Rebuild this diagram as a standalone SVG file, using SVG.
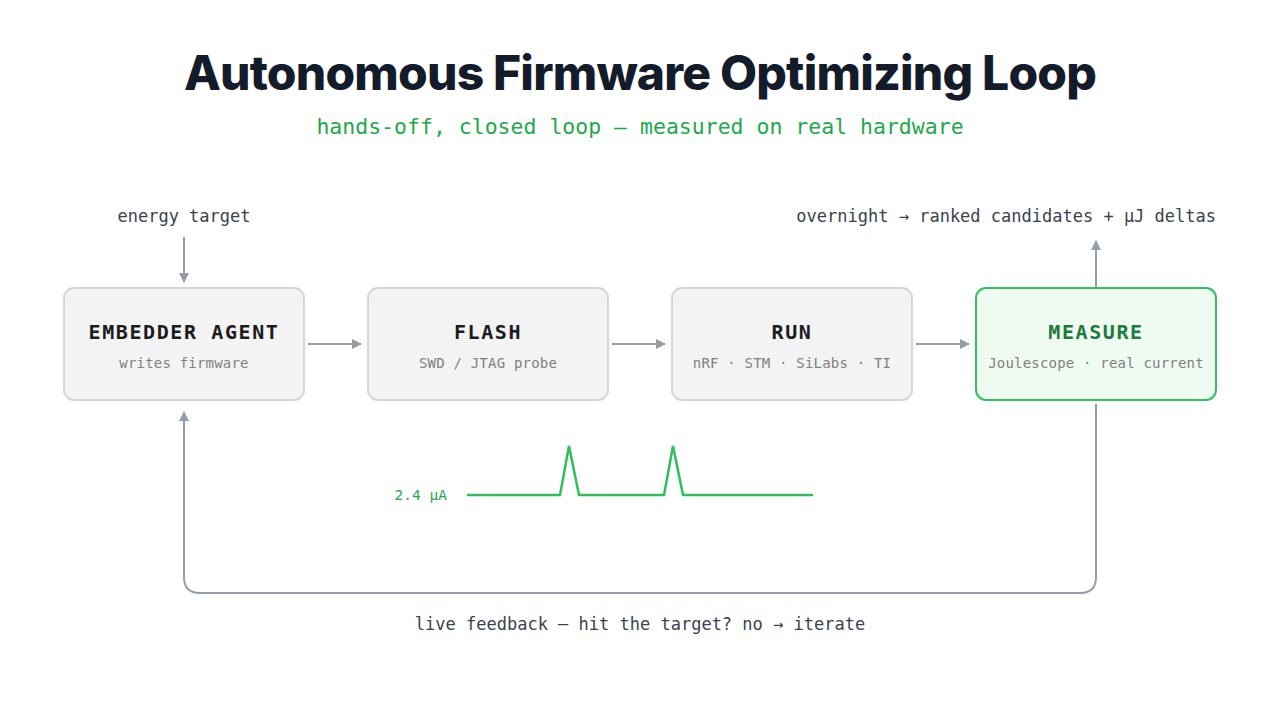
<svg xmlns="http://www.w3.org/2000/svg" width="1280" height="720" viewBox="0 0 1280 720">
<defs>
<marker id="ah" viewBox="0 0 10 10" refX="9" refY="5" markerWidth="10" markerHeight="10" markerUnits="userSpaceOnUse" orient="auto">
<path d="M0,0 L10,5 L0,10 Z" fill="#959dab"/>
</marker>
<style>
.mono{font-family:"DejaVu Sans Mono","Liberation Mono",monospace;}
.box{fill:#f3f3f3;stroke:#d6d6d6;stroke-width:2;}
.boxg{fill:#effbf1;stroke:#34c05f;stroke-width:2;}
.ttl{font-size:20px;font-weight:bold;fill:#1c1c1e;letter-spacing:1.6px;text-anchor:middle;}
.sub{font-size:14px;fill:#808080;text-anchor:middle;letter-spacing:0.2px;}
.lbl{font-size:17px;fill:#3a4250;}
.conn{stroke:#959dab;stroke-width:2;fill:none;}
</style>
</defs>
<rect width="1280" height="720" fill="#ffffff"/>
<text x="640" y="90" text-anchor="middle" font-family="Inter,'Liberation Sans',sans-serif" font-weight="800" font-size="48" letter-spacing="-0.8" fill="#141b2b">Autonomous Firmware Optimizing Loop</text>
<text class="mono" x="640" y="134" text-anchor="middle" font-size="21.5" fill="#22a84b">hands-off, closed loop — measured on real hardware</text>

<text class="mono lbl" x="184" y="222" text-anchor="middle">energy target</text>
<text class="mono lbl" x="1216" y="222" text-anchor="end">overnight → ranked candidates + μJ deltas</text>

<g id="connectors">
<line class="conn" x1="184" y1="237" x2="184" y2="282" marker-end="url(#ah)"/>
<line class="conn" x1="308" y1="344" x2="361" y2="344" marker-end="url(#ah)"/>
<line class="conn" x1="612" y1="344" x2="665" y2="344" marker-end="url(#ah)"/>
<line class="conn" x1="916" y1="344" x2="969" y2="344" marker-end="url(#ah)"/>
<line class="conn" x1="1096" y1="288" x2="1096" y2="241" marker-end="url(#ah)"/>
<path class="conn" d="M1096,404 L1096,577 Q1096,593 1080,593 L200,593 Q184,593 184,577 L184,412" marker-end="url(#ah)"/>
</g>

<g id="embedder">
<rect class="box" x="64" y="288" width="240" height="112" rx="10"/>
<text class="mono ttl" x="184" y="339">EMBEDDER AGENT</text>
<text class="mono sub" x="184" y="368">writes firmware</text>
</g>
<g id="flash">
<rect class="box" x="368" y="288" width="240" height="112" rx="10"/>
<text class="mono ttl" x="488" y="339">FLASH</text>
<text class="mono sub" x="488" y="368">SWD / JTAG probe</text>
</g>
<g id="run">
<rect class="box" x="672" y="288" width="240" height="112" rx="10"/>
<text class="mono ttl" x="792" y="339">RUN</text>
<text class="mono sub" x="792" y="368">nRF · STM · SiLabs · TI</text>
</g>
<g id="measure">
<rect class="boxg" x="976" y="288" width="240" height="112" rx="10"/>
<text class="mono ttl" x="1096" y="339" style="fill:#1e7a3e">MEASURE</text>
<text class="mono sub" x="1096" y="368">Joulescope · real current</text>
</g>

<g id="waveform">
<text class="mono" x="447" y="500" text-anchor="end" font-size="14.5" fill="#2aa552">2.4 μA</text>
<polyline points="467,495 560,495 569,446 579,495 664,495 673,446 683,495 813,495" fill="none" stroke="#2fbf5a" stroke-width="2.5" stroke-linejoin="miter"/>
</g>

<text class="mono lbl" x="640" y="630" text-anchor="middle">live feedback — hit the target? no → iterate</text>
</svg>
